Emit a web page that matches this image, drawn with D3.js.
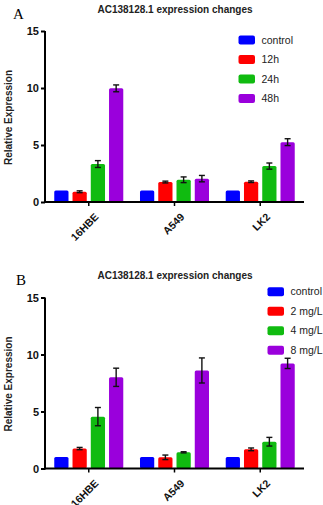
<!DOCTYPE html>
<html><head><meta charset="utf-8">
<script src="https://cdn.jsdelivr.net/npm/d3@7"></script>
<style>body{margin:0;background:#fff}svg{display:block}</style>
</head><body>
<script>
const cellLines = ["16HBE", "A549", "LK2"];
const yTicks = [0, 5, 10, 15];
const titleText = "AC138128.1 expression changes";
const yLabel = "Relative Expression";

// Panel A: time course
const seriesA = ["control", "12h", "24h", "48h"];
const valuesA = [
  [1.0, 0.9, 3.33, 9.97],   // 16HBE
  [1.0, 1.75, 1.95, 2.05],  // A549
  [1.0, 1.78, 3.15, 5.25]   // LK2
];
const errorsA = [
  [0.0, 0.08, 0.3, 0.3],
  [0.0, 0.08, 0.25, 0.28],
  [0.0, 0.07, 0.27, 0.3]
];

// Panel B: dose
const seriesB = ["control", "2 mg/L", "4 mg/L", "8 mg/L"];
const valuesB = [
  [1.0, 1.75, 4.55, 8.0],
  [1.0, 0.98, 1.42, 8.6],
  [1.0, 1.68, 2.35, 9.22]
];
const errorsB = [
  [0.0, 0.1, 0.8, 0.8],
  [0.0, 0.2, 0.05, 1.1],
  [0.0, 0.12, 0.38, 0.45]
];

const colors = ["#0000ff", "#ff0000", "#10bb10", "#9a00dc"];

const W = 323, H = 505;
const svg = d3.select("body").append("svg").attr("width", W).attr("height", H);

function panel(cfg) {
  const g = svg.append("g");
  const x = d3.scaleBand().domain(cellLines).range([45, 304]).paddingInner(0.195).paddingOuter(0.108);
  const xs = d3.scaleBand().domain(cfg.series).range([0, x.bandwidth()]).paddingInner(0.22).paddingOuter(0);
  const y = d3.scaleLinear().domain([0, 15]).range([cfg.y0, cfg.y15]);

  // letter label
  g.append("text").attr("x", cfg.letterX).attr("y", cfg.letterY)
    .attr("font-family", "Liberation Serif, serif").attr("font-size", 15).text(cfg.letter);
  // title
  g.append("text").attr("x", 175).attr("y", cfg.titleY).attr("text-anchor", "middle")
    .attr("font-family", "Liberation Sans, Arial, sans-serif").attr("font-weight", "bold")
    .attr("font-size", 10).attr("fill", "#222").text(titleText);
  // y label
  g.append("text").attr("transform", `translate(12,${(cfg.y0 + cfg.y15) / 2 + 1}) rotate(-90)`)
    .attr("text-anchor", "middle").attr("font-family", "Liberation Sans, Arial, sans-serif")
    .attr("font-weight", "bold").attr("font-size", 10).attr("fill", "#222").text(yLabel);

  // bars
  cellLines.forEach((c, i) => {
    cfg.series.forEach((s, j) => {
      const v = cfg.values[i][j], e = cfg.errors[i][j];
      const bx = x(c) + xs(s), bw = xs.bandwidth();
      g.append("rect").attr("x", bx).attr("y", y(v)).attr("width", bw)
        .attr("height", y(0) - y(v)).attr("rx", 1.5).attr("fill", colors[j]);
      if (e > 0) {
        const cx = bx + bw / 2;
        const eg = g.append("g").attr("stroke", "#111").attr("stroke-width", 1.4);
        eg.append("line").attr("x1", cx).attr("x2", cx).attr("y1", y(v + e)).attr("y2", y(v - e));
        eg.append("line").attr("x1", cx - 3).attr("x2", cx + 3).attr("y1", y(v + e)).attr("y2", y(v + e));
        eg.append("line").attr("x1", cx - 3).attr("x2", cx + 3).attr("y1", y(v - e)).attr("y2", y(v - e));
      }
    });
  });

  // y axis
  const ya = g.append("g").attr("transform", "translate(45,0)")
    .call(d3.axisLeft(y).tickValues(yTicks).tickSize(4).tickPadding(2));
  ya.select(".domain").attr("stroke", "#000").attr("stroke-width", 2).attr("d", `M0,${cfg.y0 + 1}V${cfg.y15}`);
  ya.selectAll(".tick line").attr("stroke", "#000").attr("stroke-width", 2);
  ya.selectAll(".tick text").attr("font-family", "Liberation Sans, Arial, sans-serif")
    .attr("font-weight", "bold").attr("font-size", 11).attr("fill", "#111");

  // x axis
  const xa = g.append("g").attr("transform", `translate(0,${cfg.y0})`)
    .call(d3.axisBottom(x).tickSize(4).tickPadding(3));
  xa.select(".domain").attr("stroke", "#000").attr("stroke-width", 2).attr("d", "M44,0H304");
  xa.selectAll(".tick line").attr("stroke", "#000").attr("stroke-width", 1.5);
  xa.selectAll(".tick text").attr("font-family", "Liberation Sans, Arial, sans-serif")
    .attr("font-weight", "bold").attr("font-size", 10.5).attr("fill", "#111")
    .attr("text-anchor", "end").attr("dy", "0.35em")
    .attr("transform", "translate(3,8) rotate(-45)");

  // legend
  const lg = g.append("g");
  cfg.series.forEach((s, j) => {
    const yy = cfg.legY + j * 19.5;
    lg.append("rect").attr("x", cfg.legX).attr("y", yy - 4.5).attr("width", 16.5).attr("height", 9)
      .attr("rx", 2).attr("fill", colors[j]);
    lg.append("text").attr("x", cfg.legX + 23).attr("y", yy).attr("dy", "0.35em")
      .attr("font-family", "Liberation Sans, Arial, sans-serif").attr("font-size", 10.5)
      .attr("fill", "#222").text(s);
  });
}

panel({letter: "A", letterX: 13, letterY: 19, titleY: 13, y0: 202, y15: 31,
  series: seriesA, values: valuesA, errors: errorsA, legX: 238.5, legY: 40});
panel({letter: "B", letterX: 16, letterY: 284.5, titleY: 279, y0: 468.5, y15: 297.5,
  series: seriesB, values: valuesB, errors: errorsB, legX: 267.5, legY: 291.7});
</script>
</body></html>
